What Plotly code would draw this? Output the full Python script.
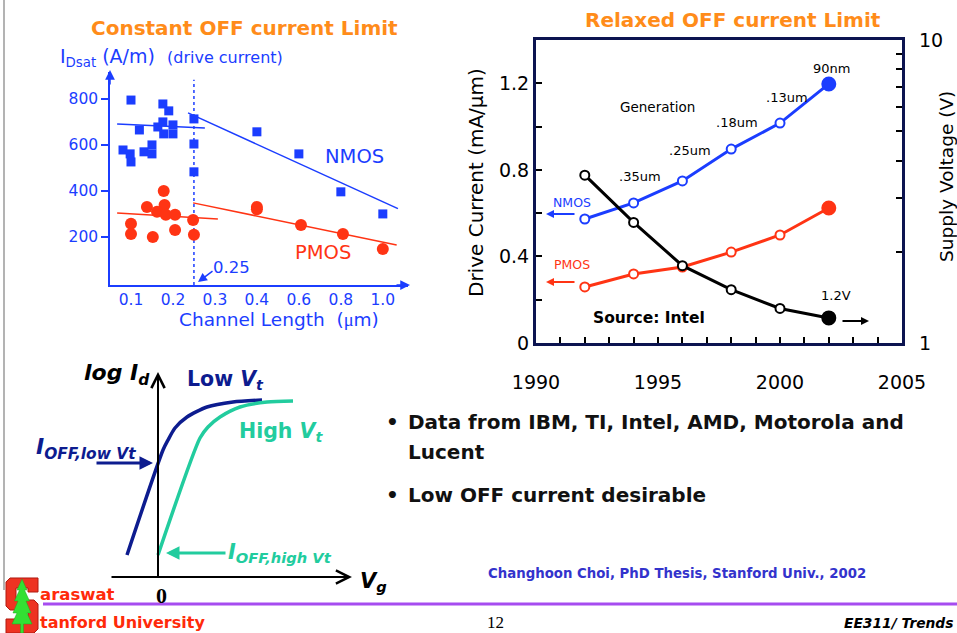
import math
import plotly.graph_objects as go

W, H = 957, 633
FONT = "DejaVu Sans, Liberation Sans, Arial, sans-serif"
SERIF = "Liberation Serif, Times New Roman, serif"


def px(x):
    return x / W


def py(y):
    return 1 - y / H


# ---------------- Left chart: Constant OFF current limit ----------------
nmos_L = [0.10, 0.176, 0.19, 0.25, 0.12, 0.164, 0.176, 0.178, 0.20, 0.20, 0.081,
          0.098, 0.10, 0.131, 0.15, 0.15, 0.25, 0.40, 0.60, 0.25, 0.80, 1.00]
nmos_I = [795, 778, 748, 713, 665, 678, 700, 648, 687, 648, 578,
          561, 526, 570, 600, 561, 604, 657, 561, 483, 396, 300]
pmos_L = [0.178, 0.138, 0.18, 0.162, 0.183, 0.205, 0.248, 0.10, 0.10, 0.152,
          0.205, 0.25, 0.40, 0.40, 0.61, 0.81, 1.00]
pmos_I = [400, 330, 339, 309, 296, 296, 274, 257, 213, 200,
          230, 209, 330, 320, 252, 213, 148]
nmos_fit_short_L = [0.067, 0.276]
nmos_fit_short_I = [691, 674]
nmos_fit_long_L = [0.236, 1.072]
nmos_fit_long_I = [739, 323]
pmos_fit_short_L = [0.067, 0.307]
pmos_fit_short_I = [304, 278]
pmos_fit_long_L = [0.248, 1.066]
pmos_fit_long_I = [348, 165]
L_ticks = [0.1, 0.2, 0.3, 0.4, 0.6, 0.8, 1.0]
L_tick_text = ["0.1", "0.2", "0.3", "0.4", "0.6", "0.8", "1.0"]
I_ticks = [200, 400, 600, 800]
I_tick_text = ["200", "400", "600", "800"]
L_marker = 0.25


def lscale(L):
    # the original axis is compressed by a factor 2 beyond 0.4 um
    return L if L <= 0.4 else 0.4 + (L - 0.4) / 2


def lmap(arr):
    return [lscale(v) for v in arr]


# ---------------- Right chart: Relaxed OFF current limit ----------------
years = [1992, 1994, 1996, 1998, 2000, 2002]
nmos_drive = [0.573, 0.647, 0.749, 0.896, 1.016, 1.197]
pmos_drive = [0.259, 0.319, 0.351, 0.420, 0.499, 0.624]
supply_v = [3.58, 2.50, 1.80, 1.50, 1.30, 1.21]
generation = ["", ".35um", ".25um", ".18um", ".13um", "90nm"]
year_ticks = [1990, 1995, 2000, 2005]
year_tick_text = ["1990", "1995", "2000", "2005"]
year_minor = list(range(1990, 2006))
drive_ticks = [0, 0.4, 0.8, 1.2]
drive_tick_text = ["0", "0.4", "0.8", "1.2"]
drive_minor = [0.2, 0.6, 1.0]
volt_ticks = [1, 10]
volt_tick_text = ["1", "10"]
volt_minor = [2, 3, 4, 5, 6, 7, 8, 9]

# ---------------- Sketch: log Id vs Vg ----------------
low_vt_vg = [-0.775, 0.125, 0.25, 0.425, 0.725, 1.225, 1.875, 2.6]
low_vt_logid = [0.55, 3.175, 3.425, 3.725, 4.0, 4.25, 4.375, 4.425]
high_vt_vg = [0, 1.05, 1.25, 1.55, 2.05, 2.725, 3.375]
high_vt_logid = [0.55, 3.475, 3.75, 4.0, 4.25, 4.375, 4.4]

BLUE = "#1b3dff"
RED = "#ff3414"
ORANGE = "#ff8c1a"
NAVY = "#0d1c8f"
TEAL = "#22cc9e"
BOX = "#0c1450"

fig = go.Figure()

# left chart traces
fig.add_trace(go.Scatter(x=[L_marker, L_marker], y=[-9, 883], mode="lines",
                         line=dict(color=BLUE, width=1.5, dash="dot"),
                         xaxis="x", yaxis="y"))
for Ls, Is, col in [(nmos_fit_short_L, nmos_fit_short_I, BLUE),
                    (nmos_fit_long_L, nmos_fit_long_I, BLUE),
                    (pmos_fit_short_L, pmos_fit_short_I, RED),
                    (pmos_fit_long_L, pmos_fit_long_I, RED)]:
    fig.add_trace(go.Scatter(x=lmap(Ls), y=Is, mode="lines",
                             line=dict(color=col, width=1.5),
                             xaxis="x", yaxis="y"))
fig.add_trace(go.Scatter(x=lmap(nmos_L), y=nmos_I, mode="markers",
                         marker=dict(symbol="square", size=9, color=BLUE, opacity=1,
                                     line=dict(width=0)),
                         xaxis="x", yaxis="y"))
fig.add_trace(go.Scatter(x=lmap(pmos_L), y=pmos_I, mode="markers",
                         marker=dict(symbol="circle", size=12, color=RED, opacity=1,
                                     line=dict(width=0)),
                         xaxis="x", yaxis="y"))


# right chart traces
def series(yvals, col, axis):
    n = len(yvals)
    fig.add_trace(go.Scatter(
        x=years, y=yvals, mode="lines+markers",
        line=dict(color=col, width=3),
        marker=dict(size=[9] * (n - 1) + [13], opacity=1,
                    color=["white"] * (n - 1) + [col],
                    line=dict(color=col, width=2)),
        xaxis="x2", yaxis=axis))


series(nmos_drive, BLUE, "y2")
series(pmos_drive, RED, "y2")
series(supply_v, "black", "y3")

# sketch traces
fig.add_trace(go.Scatter(x=low_vt_vg, y=low_vt_logid, mode="lines",
                         line=dict(color=NAVY, width=3.5, shape="spline", smoothing=0.7),
                         xaxis="x3", yaxis="y4"))
fig.add_trace(go.Scatter(x=high_vt_vg, y=high_vt_logid, mode="lines",
                         line=dict(color=TEAL, width=3.5, shape="spline", smoothing=0.7),
                         xaxis="x3", yaxis="y4"))

ann = []


def text(x, y, t, size, color="black", xanchor="center", family=FONT, angle=0):
    ann.append(dict(x=px(x), y=py(y), xref="paper", yref="paper", text=t,
                    showarrow=False, xanchor=xanchor, yanchor="middle",
                    textangle=angle,
                    font=dict(size=size, color=color, family=family)))


def arrow(x0, y0, x1, y1, color, width, head=2, size=1.0):
    # tail (x0,y0) -> head (x1,y1), in page pixels
    ann.append(dict(x=px(x1), y=py(y1), xref="paper", yref="paper", text="",
                    showarrow=True, ax=x0 - x1, ay=y0 - y1,
                    arrowhead=head, arrowwidth=width, arrowsize=size,
                    arrowcolor=color))


# left chart texts
text(245, 28, "<b>Constant OFF current Limit</b>", 20, ORANGE)
text(58, 58, "I<sub>Dsat</sub> (A/m)  <span style='font-size:16px'>(drive current)</span>",
     19, BLUE, xanchor="left")
text(279, 319, "Channel Length  (<span style='font-family:Liberation Serif'>μ</span>m)",
     18.5, BLUE)
text(354, 156, "NMOS", 19.5, BLUE)
text(323, 252, "PMOS", 19.5, RED)
text(231, 267, "0.25", 16.5, BLUE)
arrow(214, 270, 198, 282, BLUE, 1.5, head=2, size=1.2)
arrow(110, 86, 110, 70, BLUE, 1.5, head=2, size=1.3)
arrow(395, 285, 410, 285, BLUE, 1.5, head=2, size=1.3)

# right chart texts
text(733, 20, "<b>Relaxed OFF current Limit</b>", 20, ORANGE)
text(476, 183, "Drive Current (mA/μm)", 20, "black", angle=-90)
text(946, 177, "Supply Voltage (V)", 18.5, "black", angle=-90)
gen_shift = [(0, 0), (6, 26), (8, 30), (6, 27), (7, 26), (3, 15)]
for yr, val, g, (dx, dy) in zip(years, nmos_drive, generation, gen_shift):
    if g:
        ann.append(dict(x=yr, y=val, xref="x2", yref="y2", text=g, showarrow=False,
                        xshift=dx, yshift=dy,
                        font=dict(size=13, color="black", family=FONT)))
text(657, 107, "Generation", 13.5)
ann.append(dict(x=years[-1], y=math.log10(supply_v[-1]), xref="x2", yref="y3",
                text="1.2V", showarrow=False, xshift=7, yshift=22,
                font=dict(size=13, color="black", family=FONT)))
text(572, 202, "NMOS", 12.5, BLUE)
text(572, 264, "PMOS", 12.5, RED)
text(649, 318, "<b>Source: Intel</b>", 15.5)
arrow(576, 214, 546, 214, BLUE, 2, head=2, size=0.8)
arrow(576, 282, 546, 282, RED, 2, head=2, size=0.8)
arrow(841, 321, 869, 321, "black", 2, head=2, size=0.8)

# sketch axes & labels
ann.append(dict(x=0, y=5.125, xref="x3", yref="y4", axref="x3", ayref="y4",
                ax=0, ay=-0.05, text="", showarrow=True, arrowhead=5,
                arrowwidth=2, arrowsize=1.3, arrowcolor="black"))
ann.append(dict(x=4.85, y=0, xref="x3", yref="y4", axref="x3", ayref="y4",
                ax=-1.2, ay=0, text="", showarrow=True, arrowhead=5,
                arrowwidth=2, arrowsize=1.3, arrowcolor="black"))
text(152, 374, "<b><i>log I<sub>d</sub></i></b>", 22, "black", xanchor="right")
text(185, 380, "<b>Low <i>V<sub>t</sub></i></b>", 20.5, NAVY, xanchor="left")
text(237, 432, "<b>High <i>V<sub>t</sub></i></b>", 20.5, TEAL, xanchor="left")
text(34, 448, "<b><i>I<sub>OFF,low Vt</sub></i></b>", 22, NAVY, xanchor="left")
text(226, 553, "<b><i>I<sub>OFF,high Vt</sub></i></b>", 21, TEAL, xanchor="left")
text(358, 582, "<b><i>V<sub>g</sub></i></b>", 21, "black", xanchor="left")
text(161, 595, "<b>0</b>", 22, "black", family=SERIF)
arrow(95, 463, 153, 463, NAVY, 3, head=2, size=0.9)
arrow(227, 553, 166, 553, TEAL, 3, head=2, size=0.9)

# bullets & footer
text(392, 422, "<b>•</b>", 20, "#111111")
text(406, 422, "<b>Data from IBM, TI, Intel, AMD, Motorola and</b>", 20, "#111111", xanchor="left")
text(406, 452, "<b>Lucent</b>", 20, "#111111", xanchor="left")
text(392, 495, "<b>•</b>", 20, "#111111")
text(406, 495, "<b>Low OFF current desirable</b>", 20, "#111111", xanchor="left")
text(677, 573, "<b>Changhoon Choi, PhD Thesis, Stanford Univ., 2002</b>", 13.3, "#3333cc")
text(495, 622, "12", 17, "black", family=SERIF)
text(955, 623, "<b><i>EE311/ Trends</i></b>", 13.8, "black", xanchor="right")
text(38, 594, "<b>araswat</b>", 16.5, "#ff2a0a", xanchor="left")
text(38, 622, "<b>tanford University</b>", 16, "#ff2a0a", xanchor="left")


def path(points):
    return "M " + " L ".join(f"{px(x):.5f},{py(y):.5f}" for x, y in points) + " Z"


s_shape = [(10, 578), (38, 578), (38, 592), (28, 592), (28, 588), (16, 588), (16, 600),
           (34, 600), (38, 604), (38, 629), (34, 633), (6, 633), (6, 619), (16, 619),
           (16, 623), (28, 623), (28, 610), (10, 610), (6, 606), (6, 582)]
tree = [(22, 579), (17, 590), (19.5, 590), (14.5, 601), (18, 601), (13, 613), (17, 613),
        (12, 624), (20.5, 624), (20.5, 633), (23.5, 633), (23.5, 624), (32, 624),
        (27, 613), (31, 613), (26, 601), (29.5, 601), (24.5, 590), (27, 590)]

shapes = [
    dict(type="line", xref="paper", yref="paper", x0=px(43), x1=1, y0=py(604), y1=py(604),
         line=dict(color="#a64cf0", width=3)),
    dict(type="line", xref="paper", yref="paper", x0=px(4), x1=px(4), y0=py(0), y1=py(590),
         line=dict(color="#9a9a9a", width=1.5)),
    dict(type="path", xref="paper", yref="paper", path=path(s_shape),
         fillcolor="#ee3322", line=dict(color="#b01a10", width=1)),
    dict(type="path", xref="paper", yref="paper", path=path(tree),
         fillcolor="#33e033", line=dict(color="#1fa81f", width=0.5)),
]

minor_style = dict(ticks="inside", ticklen=6, tickwidth=2, tickcolor="black", showgrid=False)

fig.update_layout(
    width=W, height=H, margin=dict(l=0, r=0, t=0, b=0, autoexpand=False),
    paper_bgcolor="white", plot_bgcolor="white", showlegend=False,
    hovermode=False, font=dict(family=FONT, color="black"),
    annotations=ann, shapes=shapes,
    xaxis=dict(domain=[px(110), px(408)], range=[0.05, 0.76], anchor="y",
               automargin=False,
               tickvals=lmap(L_ticks), ticktext=L_tick_text, ticks="",
               tickfont=dict(size=15.5, color=BLUE), showgrid=False, zeroline=False,
               showline=True, linecolor=BLUE, linewidth=1.5),
    yaxis=dict(domain=[py(285), py(72)], range=[-9, 917], anchor="x",
               automargin=False,
               tickvals=I_ticks, ticktext=I_tick_text, ticks="outside", ticklen=7,
               tickcolor=BLUE, tickwidth=1.5,
               tickfont=dict(size=15.5, color=BLUE), showgrid=False, zeroline=False,
               showline=True, linecolor=BLUE, linewidth=1.5),
    xaxis2=dict(domain=[px(536), px(902)], range=[1990, 2005], anchor="y2",
                automargin=False,
                tickvals=year_ticks, ticktext=year_tick_text, ticks="inside",
                ticklen=6, tickwidth=2, tickcolor="black", ticklabelstandoff=20,
                minor=dict(tickvals=year_minor, **minor_style),
                tickfont=dict(size=19), showgrid=False, zeroline=False,
                showline=True, mirror=True, linecolor=BOX, linewidth=3),
    yaxis2=dict(domain=[py(343), py(40)], range=[0, 1.4], anchor="x2",
                automargin=False,
                tickvals=drive_ticks, ticktext=drive_tick_text, ticks="inside",
                ticklen=6, tickwidth=2, tickcolor="black",
                minor=dict(tickvals=drive_minor, **minor_style),
                tickfont=dict(size=19), showgrid=False, zeroline=False,
                showline=True, mirror=True, linecolor=BOX, linewidth=3),
    yaxis3=dict(overlaying="y2", side="right", type="log", range=[0, 1], anchor="x2",
                automargin=False,
                tickvals=volt_ticks, ticktext=volt_tick_text, ticks="inside",
                ticklen=6, tickwidth=2, tickcolor="black", ticklabelstandoff=16,
                minor=dict(tickvals=volt_minor, **minor_style),
                tickfont=dict(size=19), showgrid=False, zeroline=False, showline=False),
    xaxis3=dict(domain=[px(20), px(380)], range=[-3.45, 5.55], anchor="y4",
                automargin=False, visible=False),
    yaxis4=dict(domain=[py(610), py(360)], range=[-0.825, 5.425], anchor="x3",
                automargin=False, visible=False),
)

fig.write_html(
    "out.html",
    config={"displayModeBar": False},
    post_script="document.body.style.margin='0';document.body.style.padding='0';"
                "document.body.style.overflow='hidden';",
)
